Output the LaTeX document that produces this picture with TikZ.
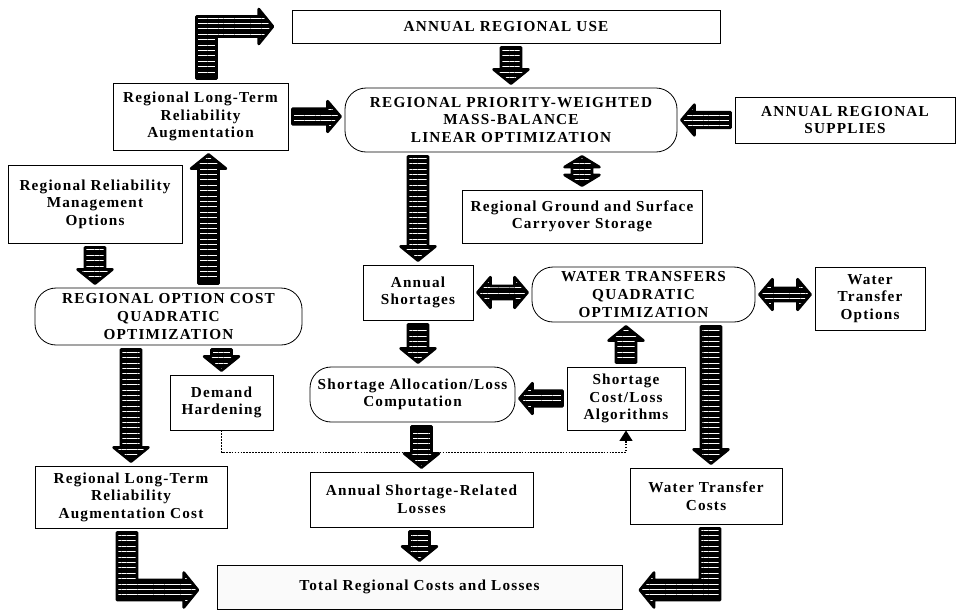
\documentclass[tikz,border=0pt]{standalone}
\usepackage{fontspec}
\setmainfont{Liberation Serif}[LetterSpace=8]
\usetikzlibrary{calc,patterns.meta,arrows.meta}

% half widths of the striped block arrows
\tikzset{
  fat shaft/.store in=\fatS, fat head/.store in=\fatH,
  fat tip/.store in=\fatL, fat gap/.store in=\fatG,
  fat shaft=8.5pt, fat head=14.8pt, fat tip=12pt, fat gap=3.5pt,
  fatfill/.style={preaction={fill=black},
    pattern={Lines[angle=0,distance=4.6pt,line width=0.8pt]}, pattern color=white,
    postaction={draw=black,line width=2.4pt,line join=round}},
  box/.style={draw,line width=0.7pt,align=center,inner sep=1pt,
    font=\bfseries\fontsize{13}{15}\selectfont},
  rbox/.style={box,rounded corners=18pt},
  boxsize/.style 2 args={minimum width=#1*0.03cm,minimum height=#2*0.03cm},
}

% block arrow from #2 to #3
\newcommand\fatarrow[3][]{%
  \begin{scope}[#1]
    \path (#2) coordinate (fa0) (#3) coordinate (fb0);
    \coordinate (fa) at ($(fa0)!\fatG!(fb0)$);
    \coordinate (fb) at ($(fb0)!\fatG!(fa0)$);
    \coordinate (fh) at ($(fb)!\fatL!(fa)$);
    \path[fatfill] ($(fa)!\fatS!90:(fb)$) -- ($(fh)!\fatS!90:(fb)$) -- ($(fh)!\fatH!90:(fb)$)
      -- (fb) -- ($(fh)!\fatH!-90:(fb)$) -- ($(fh)!\fatS!-90:(fb)$) -- ($(fa)!\fatS!-90:(fb)$) -- cycle;
  \end{scope}}
% block arrow with two heads
\newcommand\fatdouble[3][]{%
  \begin{scope}[#1]
    \path (#2) coordinate (fa0) (#3) coordinate (fb0);
    \coordinate (fa) at ($(fa0)!\fatG!(fb0)$);
    \coordinate (fb) at ($(fb0)!\fatG!(fa0)$);
    \coordinate (ha) at ($(fa)!\fatL!(fb)$);
    \coordinate (hb) at ($(fb)!\fatL!(fa)$);
    \path[fatfill] (fa) -- ($(ha)!\fatH!90:(fb)$) -- ($(ha)!\fatS!90:(fb)$) -- ($(hb)!\fatS!90:(fb)$)
      -- ($(hb)!\fatH!90:(fb)$) -- (fb) -- ($(hb)!\fatH!-90:(fb)$) -- ($(hb)!\fatS!-90:(fb)$)
      -- ($(ha)!\fatS!-90:(fb)$) -- ($(ha)!\fatH!-90:(fb)$) -- cycle;
  \end{scope}}

\begin{document}
\begin{tikzpicture}[x=0.03cm,y=-0.03cm]
\useasboundingbox (0,0) rectangle (957,611);

% boxes
\node[box,boxsize={428}{33}] (use) at (506,26.5) {ANNUAL REGIONAL USE};
\node[box,boxsize={175}{67}] (aug) at (200.5,116.5) {Regional Long-Term\\Reliability\\Augmentation};
\node[rbox,boxsize={332}{64}] (prio) at (511,120) {REGIONAL PRIORITY-WEIGHTED\\MASS-BALANCE\\LINEAR OPTIMIZATION};
\node[box,boxsize={220}{46}] (supply) at (845,120) {ANNUAL REGIONAL\\SUPPLIES};
\node[box,boxsize={240}{53}] (store) at (582,216.5) {Regional Ground and Surface\\Carryover Storage};
\node[box,boxsize={174}{78}] (mgmt) at (95,204) {Regional Reliability\\Management\\Options};
\node[rbox,boxsize={267}{57}] (optcost) at (168.5,316.5) {REGIONAL OPTION COST\\QUADRATIC\\OPTIMIZATION};
\node[box,boxsize={110}{55}] (short) at (418,292.5) {Annual\\Shortages};
\node[rbox,boxsize={223}{55}] (wtq) at (643.5,294.5) {WATER TRANSFERS\\QUADRATIC\\OPTIMIZATION};
\node[box,boxsize={110}{63}] (wtopt) at (870,298.5) {Water\\Transfer\\Options};
\node[box,boxsize={103}{55}] (harden) at (221.5,402.5) {Demand\\Hardening};
\node[rbox,boxsize={205}{55}] (alloc) at (412.5,394.5) {Shortage Allocation/Loss\\Computation};
\node[box,boxsize={118}{63}] (algo) at (626,398.5) {Shortage\\Cost/Loss\\Algorithms};
\node[box,boxsize={192}{62}] (augcost) at (131,497) {Regional Long-Term\\Reliability\\Augmentation Cost};
\node[box,boxsize={223}{55}] (losses) at (421.5,499.5) {Annual Shortage-Related\\Losses};
\node[box,boxsize={152}{56}] (wtcost) at (706,496) {Water Transfer\\Costs};
\node[box,fill=black!2,boxsize={405}{44}] (total) at (419.5,587) {Total Regional Costs and Losses};

% straight block arrows
\fatarrow{prio.north |- use.south}{prio.north}
\fatarrow[fat shaft=6.5pt,fat head=13pt,fat tip=11pt]{aug.east}{aug.east -| prio.west}
\fatarrow[fat shaft=6.5pt,fat head=13pt,fat tip=11pt]{supply.west}{supply.west -| prio.east}
\fatdouble[fat tip=9pt]{store.north |- prio.south}{store.north}
\fatarrow{short.north |- prio.south}{short.north}
\fatdouble[fat shaft=5.5pt,fat head=13pt,fat tip=11pt]{short.east}{short.east -| wtq.west}
\fatdouble[fat shaft=5.5pt,fat head=13pt,fat tip=11pt]{wtq.east}{wtq.east -| wtopt.west}
\fatarrow{mgmt.south}{mgmt.south |- optcost.north}
\fatarrow{$(aug.south |- optcost.north)+(8,0)$}{$(aug.south)+(8,0)$}
\fatarrow{harden.north |- optcost.south}{harden.north}
\fatarrow{augcost.north |- optcost.south}{augcost.north}
\fatarrow{short.south}{short.south |- alloc.north}
\fatarrow{algo.north}{algo.north |- wtq.south}
\fatarrow[fat shaft=6.5pt,fat head=13pt,fat tip=11pt]{algo.west}{algo.west -| alloc.east}
\fatarrow{$(wtcost.north |- wtq.south)+(5,0)$}{$(wtcost.north)+(5,0)$}
\fatarrow{losses.north |- alloc.south}{losses.north}
\fatarrow{total.north |- losses.south}{total.north}

% bent block arrows
\path[fatfill] let \p1=($(aug.north)+(6,0)$), \p2=(use.west) in
  (\x1-\fatS,\y1+\fatG) -- (\x1-\fatS,\y2+\fatS) -- (\x2-16pt-\fatL,\y2+\fatS)
  -- (\x2-16pt-\fatL,\y2+\fatH) -- (\x2-16pt,\y2) -- (\x2-16pt-\fatL,\y2-\fatH)
  -- (\x2-16pt-\fatL,\y2-\fatS) -- (\x1+\fatS,\y2-\fatS) -- (\x1+\fatS,\y1+\fatG) -- cycle;
\path[fatfill] let \p1=($(augcost.south)+(-4,0)$), \p2=($(total.west)+(0,3)$) in
  (\x1-\fatS,\y1-\fatG) -- (\x1+\fatS,\y1-\fatG) -- (\x1+\fatS,\y2+\fatS)
  -- (\x2-16pt-\fatL,\y2+\fatS) -- (\x2-16pt-\fatL,\y2+\fatH) -- (\x2-16pt,\y2)
  -- (\x2-16pt-\fatL,\y2-\fatH) -- (\x2-16pt-\fatL,\y2-\fatS) -- (\x1-\fatS,\y2-\fatS) -- cycle;
\path[fatfill] let \p1=($(wtcost.south)+(4,0)$), \p2=($(total.east)+(0,3)$) in
  (\x1+\fatS,\y1-\fatG) -- (\x1+\fatS,\y2-\fatS) -- (\x2+15pt+\fatL,\y2-\fatS)
  -- (\x2+15pt+\fatL,\y2-\fatH) -- (\x2+15pt,\y2) -- (\x2+15pt+\fatL,\y2+\fatH)
  -- (\x2+15pt+\fatL,\y2+\fatS) -- (\x1-\fatS,\y2+\fatS) -- (\x1-\fatS,\y1-\fatG) -- cycle;

% dotted feedback
\draw[densely dotted,line width=1.5pt,-{Triangle[width=11pt,length=9pt]}]
  (harden.south) -- ++(0,22) -| (algo.south);
\end{tikzpicture}
\end{document}
